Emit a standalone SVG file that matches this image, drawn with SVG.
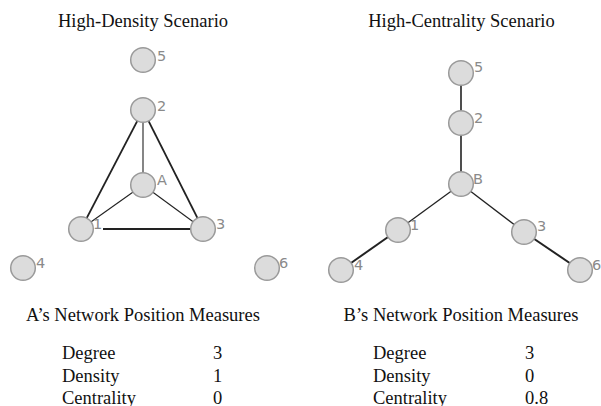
<svg xmlns="http://www.w3.org/2000/svg" width="601" height="406" viewBox="0 0 601 406">
<style>
.title{font-family:"Liberation Serif","Times New Roman",serif;font-size:18.5px;fill:#111}
.tbl{font-family:"Liberation Serif","Times New Roman",serif;font-size:18.5px;fill:#111}
.node circle{fill:#dcdcdc;stroke:#9a9a9a;stroke-width:1.5}
.node text{font-family:"DejaVu Sans",Verdana,sans-serif;font-size:14.5px;fill:#8a8a8a}
.e{stroke:#222;stroke-width:1.3;fill:none}
.ek{stroke:#222;stroke-width:2;fill:none}
</style>
<rect width="601" height="406" fill="#fff"/>
<text class="title" x="143" y="27" text-anchor="middle">High-Density Scenario</text>
<text class="title" x="461.5" y="27" text-anchor="middle">High-Centrality Scenario</text>

<g id="connectors">
  <line class="e" x1="143" y1="110" x2="81" y2="229" style="stroke-width:1.7"/>
  <line class="e" x1="143" y1="110" x2="203" y2="229" style="stroke-width:1.7"/>
  <line class="e" x1="143" y1="110" x2="143" y2="185" style="stroke-width:1.1"/>
  <line class="e" x1="143" y1="185" x2="81" y2="229" style="stroke-width:1.1"/>
  <line class="e" x1="143" y1="185" x2="203" y2="229" style="stroke-width:1.1"/>
  <line class="ek" x1="103" y1="229" x2="203" y2="229"/>
  <line class="e" x1="461" y1="73" x2="461" y2="123" style="stroke-width:1.6"/>
  <line class="e" x1="461" y1="123" x2="461" y2="184" style="stroke-width:1.6"/>
  <line class="e" x1="461" y1="184" x2="398" y2="230"/>
  <line class="e" x1="461" y1="184" x2="524" y2="232"/>
  <line class="ek" x1="398" y1="230" x2="351" y2="263"/>
  <line class="ek" x1="524" y1="232" x2="580" y2="270"/>
</g>

<g id="L5" class="node"><circle cx="143" cy="60" r="12.3"/><text x="157" y="61">5</text></g>
<g id="L2" class="node"><circle cx="143" cy="110" r="12.3"/><text x="157" y="111">2</text></g>
<g id="LA" class="node"><circle cx="143" cy="185" r="12.3"/><text x="157" y="185">A</text></g>
<g id="L1" class="node"><circle cx="81" cy="229" r="12.3"/><text x="93" y="229">1</text></g>
<g id="L3" class="node"><circle cx="203" cy="229" r="12.3"/><text x="216" y="229">3</text></g>
<g id="L4" class="node"><circle cx="23" cy="268" r="12.3"/><text x="36" y="268">4</text></g>
<g id="L6" class="node"><circle cx="267" cy="268" r="12.3"/><text x="279" y="268">6</text></g>

<g id="R5" class="node"><circle cx="461" cy="73" r="12.3"/><text x="474" y="72">5</text></g>
<g id="R2" class="node"><circle cx="461" cy="123" r="12.3"/><text x="474" y="123">2</text></g>
<g id="RB" class="node"><circle cx="461" cy="184" r="12.3"/><text x="473" y="184">B</text></g>
<g id="R1" class="node"><circle cx="398" cy="230" r="12.3"/><text x="410" y="230">1</text></g>
<g id="R3" class="node"><circle cx="524" cy="232" r="12.3"/><text x="537" y="231">3</text></g>
<g id="R4" class="node"><circle cx="341" cy="270" r="12.3"/><text x="354" y="270">4</text></g>
<g id="R6" class="node"><circle cx="580" cy="270" r="12.3"/><text x="592" y="270">6</text></g>

<text class="tbl" x="143" y="321" text-anchor="middle">A’s Network Position Measures</text>
<text class="tbl" x="62" y="359">Degree</text><text class="tbl" x="213" y="359">3</text>
<text class="tbl" x="62" y="381.5">Density</text><text class="tbl" x="213" y="381.5">1</text>
<text class="tbl" x="62" y="404">Centrality</text><text class="tbl" x="213" y="404">0</text>

<text class="tbl" x="461" y="321" text-anchor="middle">B’s Network Position Measures</text>
<text class="tbl" x="373" y="359">Degree</text><text class="tbl" x="525" y="359">3</text>
<text class="tbl" x="373" y="381.5">Density</text><text class="tbl" x="525" y="381.5">0</text>
<text class="tbl" x="373" y="404">Centrality</text><text class="tbl" x="525" y="404">0.8</text>
</svg>
